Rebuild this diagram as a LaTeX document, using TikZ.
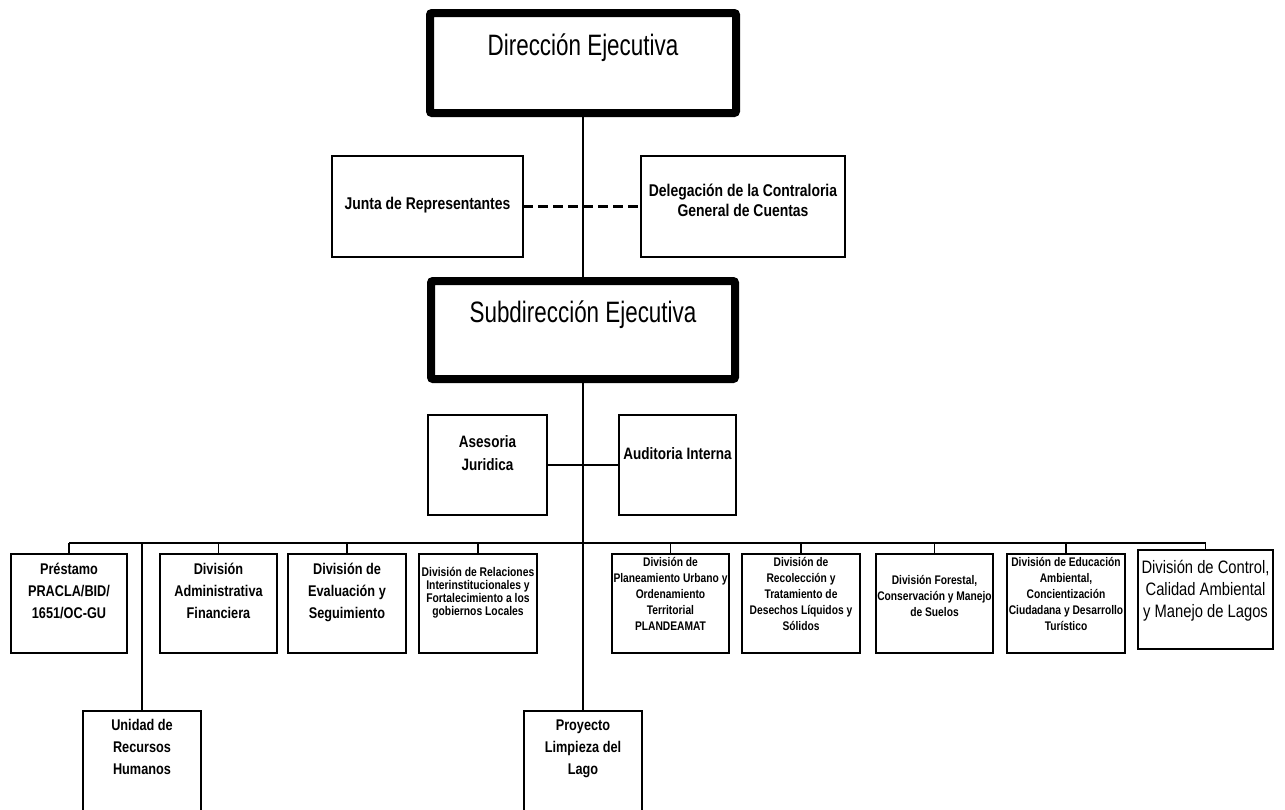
\documentclass[tikz,border=0pt]{standalone}
\usepackage{fontspec}
\setmainfont{Liberation Sans}[FakeStretch=0.82]
\newfontfamily\titlefont{Liberation Sans}[FakeStretch=0.76]
\newcommand\bx[4]{\parbox[c][#2pt][t]{#1pt}{\centering\rule{0pt}{#3pt}#4\par}}
\tikzset{
  orgbox/.style={draw, line width=1.8pt, inner sep=0pt, outer sep=0pt, anchor=north west},
  headbox/.style={draw, line width=8pt, rounded corners=2pt, inner sep=0pt, outer sep=0pt, anchor=north west},
  link/.style={line width=1.4pt},
  fTitle/.style={font=\titlefont\fontsize{29.5}{34}\selectfont},
  fMid/.style={font=\bfseries\fontsize{17}{20}\selectfont},
  fMidB/.style={font=\bfseries\fontsize{16.5}{23}\selectfont},
  fBig/.style={font=\bfseries\fontsize{15.5}{22}\selectfont},
  fSmall/.style={font=\bfseries\fontsize{12.6}{13.3}\selectfont},
  fSmallB/.style={font=\bfseries\fontsize{12.5}{16.2}\selectfont},
  fCtrl/.style={font=\fontsize{18}{22}\selectfont},
}
\begin{document}
\begin{tikzpicture}[x=1pt,y=-1pt]
\fill[white] (0,0) rectangle (1285,809);
\clip (0,0) rectangle (1285,809);
% top
\node[headbox, fTitle] (dir) at (430,13) {\bx{306}{100}{42}{Dirección Ejecutiva}};
\node[orgbox, fMid] (junta) at (332,156) {\bx{191}{101}{53}{Junta de Representantes}};
\node[orgbox, fMid] (deleg) at (641,156) {\bx{204}{101}{40}{Delegación de la Contraloria\\General de Cuentas}};
\node[headbox, fTitle] (sub) at (431,281) {\bx{304}{98}{41}{Subdirección Ejecutiva}};
\node[orgbox, fMidB] (ases) at (428,415) {\bx{119}{100}{32}{Asesoria\\Juridica}};
\node[orgbox, fMidB] (audit) at (619,415) {\bx{117}{100}{44}{Auditoria Interna}};
% bottom row
\node[orgbox, fBig] (prest) at (11,554) {\bx{116}{99}{20}{Préstamo\\PRACLA/BID/\\1651/OC-GU}};
\node[orgbox, fBig] (admin) at (160,554) {\bx{117}{99}{20}{División\\Administrativa\\Financiera}};
\node[orgbox, fBig] (eval) at (288,554) {\bx{118}{99}{20}{División de\\Evaluación y\\Seguimiento}};
\node[orgbox, fSmall] (rel) at (419,554) {\bx{118}{99}{22}{División de Relaciones\\Interinstitucionales y\\Fortalecimiento a los\\gobiernos Locales}};
\node[orgbox, fSmallB] (plan) at (612,554) {\bx{117}{99}{12}{División de\\Planeamiento Urbano y\\Ordenamiento\\Territorial\\PLANDEAMAT}};
\node[orgbox, fSmallB] (recol) at (742,554) {\bx{118}{99}{12}{División de\\Recolección y\\Tratamiento de\\Desechos Líquidos y\\Sólidos}};
\node[orgbox, fSmallB] (forest) at (876,554) {\bx{117}{99}{30}{División Forestal,\\Conservación y Manejo\\de Suelos}};
\node[orgbox, fSmallB] (educ) at (1007,554) {\bx{118}{99}{12}{División de Educación\\Ambiental,\\Concientización\\Ciudadana y Desarrollo\\Turístico}};
\node[orgbox, fCtrl] (ctrl) at (1138,550) {\bx{135}{99}{23}{División de Control,\\Calidad Ambiental\\y Manejo de Lagos}};
% lowest
\node[orgbox, fBig] (unid) at (83,711) {\bx{118}{120}{19}{Unidad de\\Recursos\\Humanos}};
\node[orgbox, fBig] (proy) at (524,711) {\bx{118}{120}{19}{Proyecto\\Limpieza del\\Lago}};
% connectors
\coordinate (busL) at (69,543);
\coordinate (busR) at (1206,543);
\draw[link] (dir.south) -- (sub.north);
\draw[link] (sub.south) -- (proy.north);
\draw[line width=2.2pt, dash pattern=on 10pt off 5pt] (junta.east) -- (deleg.west);
\draw[link] (ases.east) -- (audit.west);
\draw[link] (busL) -- (busR);
\foreach \n in {prest,admin,eval,rel,plan,recol,forest,educ,ctrl}
  \draw[link] (\n.north) -- (\n.north |- busL);
\draw[link] (unid.north) -- (unid.north |- busL);
\end{tikzpicture}
\end{document}
